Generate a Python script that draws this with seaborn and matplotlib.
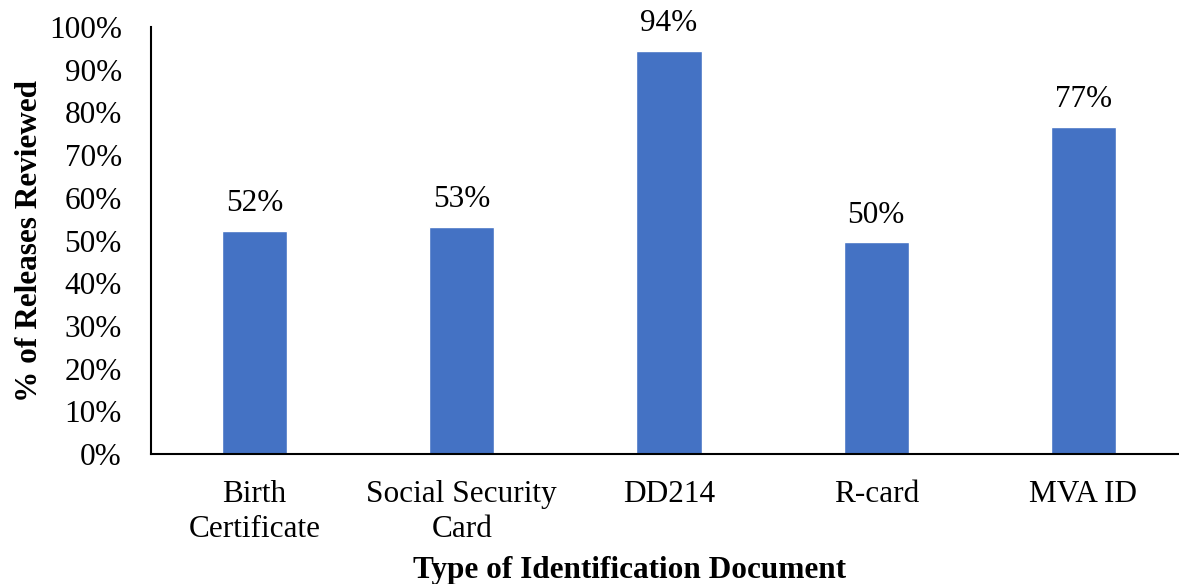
import matplotlib
matplotlib.use('Agg')
import matplotlib.pyplot as plt
import seaborn as sns
import pandas as pd
from matplotlib.ticker import PercentFormatter

doc_types = ['Birth\nCertificate', 'Social Security\nCard', 'DD214', 'R-card', 'MVA ID']
pct_reviewed = [52.3, 53.2, 94.4, 49.6, 76.6]
pct_labels = ['52%', '53%', '94%', '50%', '77%']
y_ticks = [0, 10, 20, 30, 40, 50, 60, 70, 80, 90, 100]

df = pd.DataFrame({'doc': doc_types, 'pct': pct_reviewed})

sns.set_style('white')
plt.rcParams['font.family'] = ['Liberation Serif', 'DejaVu Serif']
plt.rcParams['text.color'] = 'black'
plt.rcParams['axes.labelcolor'] = 'black'
plt.rcParams['xtick.color'] = 'black'
plt.rcParams['ytick.color'] = 'black'

fs = 22.5

fig = plt.figure(figsize=(11.79, 5.84), dpi=100)
# plot area in figure fractions (axis runs slightly past the right edge, as in the source)
ax = fig.add_axes([151 / 1179, 130 / 584, 1036 / 1179, 427 / 584])

sns.barplot(data=df, x='doc', y='pct', color='#4472C4', width=0.314,
            saturation=1, ax=ax)

for i, (v, lab) in enumerate(zip(pct_reviewed, pct_labels)):
    ax.annotate(lab, (i, v), xytext=(0, 9), textcoords='offset points',
                ha='center', va='bottom', fontsize=fs)

ax.set_xlim(-0.5, 4.5)
ax.set_ylim(0, 100)
ax.set_yticks(y_ticks)
ax.yaxis.set_major_formatter(PercentFormatter(decimals=0))
ax.tick_params(axis='y', length=0, pad=21, labelsize=fs)
ax.tick_params(axis='x', length=0, pad=19, labelsize=fs)
for t in ax.get_xticklabels():
    t.set_linespacing(1.25)

for side in ['top', 'right']:
    ax.spines[side].set_visible(False)
for side in ['left', 'bottom']:
    ax.spines[side].set_color('black')
    ax.spines[side].set_linewidth(1.5)

ax.set_xlabel('Type of Identification Document', fontsize=fs, fontweight='bold')
ax.set_ylabel('% of Releases Reviewed', fontsize=fs, fontweight='bold')
ax.xaxis.set_label_coords(0.462, -0.24)
ax.yaxis.set_label_coords(-0.103, 0.5)

fig.savefig('out.png', dpi=100)
